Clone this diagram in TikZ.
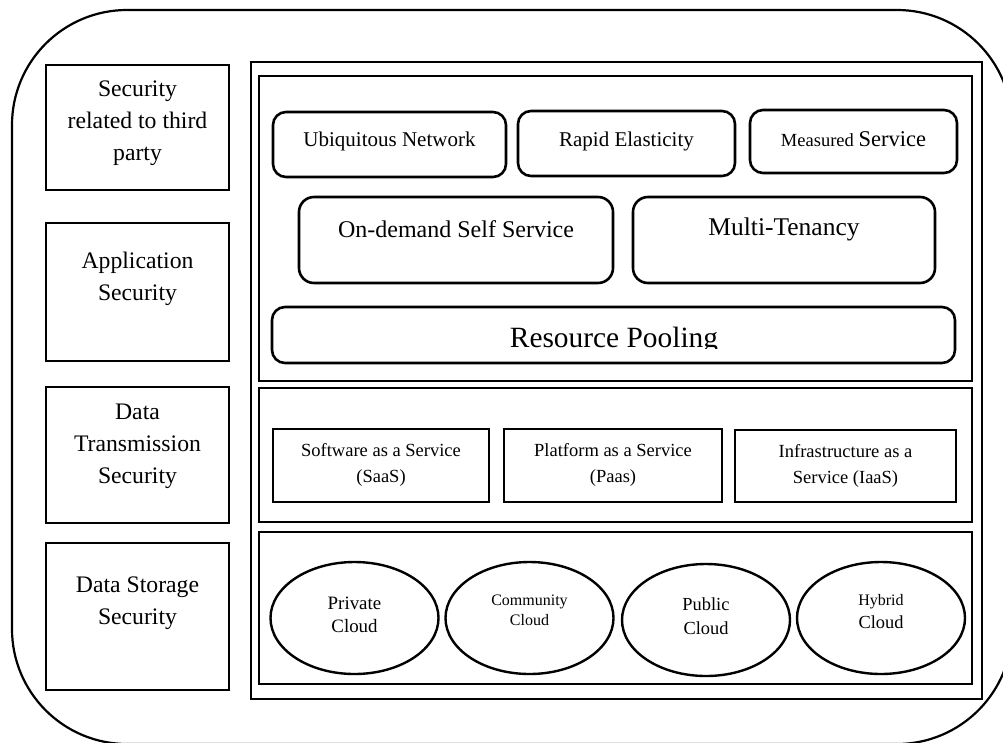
\documentclass[tikz,border=0pt]{standalone}
\usepackage{fontspec}
\setmainfont{Liberation Serif}
\usetikzlibrary{shapes.geometric}
\newcommand{\fsz}[2]{\fontsize{#1}{#2}\selectfont}
\begin{document}
\begin{tikzpicture}[x=1pt,y=-1pt,
  box/.style={draw, line width=2.6pt, inner sep=0pt},
  rbox/.style={box, rounded corners=13pt},
  oval/.style={draw, ellipse, line width=2.4pt, inner sep=0pt, minimum width=168pt, minimum height=112pt},
  lbl/.style={align=center, inner sep=0pt, text=black}]
\useasboundingbox[fill=white] (0,0) rectangle (1003,742);
\clip (0,0) rectangle (1003,742);
% outer frame
\node[draw, line width=2.2pt, rounded corners=115pt, minimum width=1000pt, minimum height=734pt, inner sep=0pt] (frame) at (512,377) {};
% left column
\node[box, minimum width=183pt, minimum height=125pt] (b1) at (137.5,127.5) {};
\node[lbl, font=\fsz{23.7}{32}] (t1) at (137.5,123) {Security\\related to third\\party};
\node[box, minimum width=183pt, minimum height=138pt] (b2) at (137.5,292) {};
\node[lbl, font=\fsz{23.7}{32}] (t2) at (137.5,279) {Application\\Security};
\node[box, minimum width=183pt, minimum height=136pt] (b3) at (137.5,455) {};
\node[lbl, font=\fsz{23.7}{32}] (t3) at (137.5,446) {Data\\Transmission\\Security};
\node[box, minimum width=183pt, minimum height=147pt] (b4) at (137.5,616.5) {};
\node[lbl, font=\fsz{23.7}{32}] (t4) at (137.5,603) {Data Storage\\Security};
% right block
\node[box, minimum width=731pt, minimum height=637pt] (outer) at (616.5,380.5) {};
\node[box, minimum width=713pt, minimum height=305pt] (sec1) at (615.5,228.5) {};
\node[box, minimum width=713pt, minimum height=134pt] (sec2) at (615.5,455) {};
\node[box, minimum width=713pt, minimum height=152pt] (sec3) at (615.5,608) {};
% characteristics
\node[rbox, minimum width=233pt, minimum height=65pt] (un) at (389.5,144.5) {};
\node[lbl, font=\fsz{21}{25}] (unt) at (389.5,141) {Ubiquitous Network};
\node[rbox, minimum width=217pt, minimum height=65pt] (re) at (626.5,143.5) {};
\node[lbl, font=\fsz{21}{25}] (ret) at (626.5,141) {Rapid Elasticity};
\node[rbox, minimum width=207pt, minimum height=63pt] (ms) at (853.5,141.5) {};
\node[lbl] (mst) at (853.5,139) {\fsz{18.5}{22}Measured \fsz{22.5}{26}Service};
\node[rbox, rounded corners=15pt, minimum width=314pt, minimum height=86pt] (od) at (456,240) {};
\node[lbl, font=\fsz{24}{28}] (odt) at (456,229) {On-demand Self Service};
\node[rbox, rounded corners=15pt, minimum width=302pt, minimum height=86pt] (mt) at (784,240) {};
\node[lbl, font=\fsz{25.5}{30}] (mtt) at (784,229) {Multi-Tenancy};
\node[rbox, minimum width=683pt, minimum height=56pt] (rp) at (613.5,335) {};
\begin{scope}
\clip (272,300) rectangle (955,348);
\node[lbl, font=\fsz{29.4}{34}, anchor=base] (rpt) at (614,347) {Resource Pooling};
\end{scope}
% service models
\node[box, minimum width=216pt, minimum height=73pt] (saas) at (381,465.5) {};
\node[lbl, font=\fsz{18.5}{26}] (saast) at (381,465) {Software as a Service\\(SaaS)};
\node[box, minimum width=218pt, minimum height=73pt] (paas) at (613,465.5) {};
\node[lbl, font=\fsz{18.5}{26}] (paast) at (613,465) {Platform as a Service\\(Paas)};
\node[box, minimum width=221pt, minimum height=72pt] (iaas) at (845.5,466) {};
\node[lbl, font=\fsz{18.5}{26}] (iaast) at (845.5,465.5) {Infrastructure as a\\Service (IaaS)};
% deployment models
\node[oval] (priv) at (354.5,618) {};
\node[lbl, font=\fsz{18.9}{23}] (privt) at (354.5,614.5) {Private\\Cloud};
\node[oval] (comm) at (529.5,618) {};
\node[lbl, font=\fsz{16}{20}] (commt) at (529.5,610) {Community\\Cloud};
\node[oval] (pub) at (706,620) {};
\node[lbl, font=\fsz{18.4}{24}] (pubt) at (706,616) {Public\\Cloud};
\node[oval] (hyb) at (881,618) {};
\node[lbl, font=\fsz{18.4}{23}] (hybt) at (881,611.5) {{\fsz{16}{23}Hybrid}\\Cloud};
\end{tikzpicture}
\end{document}
